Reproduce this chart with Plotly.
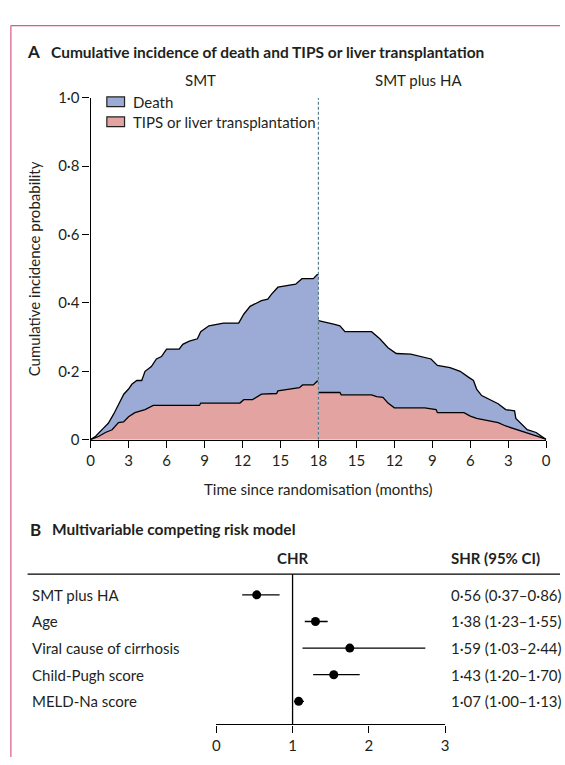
import plotly.graph_objects as go

W, H = 565, 765
FONT = "Lato"
INK = "#231f20"
BLUE = "#9cabd5"
RED = "#e3a3a0"
PINK = "#d85c80"

# ---------------- Panel A data ----------------
FOLLOW_UP = 18  # months shown for each group

smt_total_t = [0, 0.4, 1.0, 1.4, 1.84, 2.23, 2.62, 3.0, 3.26, 3.65, 4.04, 4.3, 4.8, 5.2, 5.6, 6.0, 7.0,
               7.28, 7.8, 8.44, 8.7, 9.35, 10.5, 11.7, 12.1, 12.6, 13.5, 14.0, 14.3, 14.8, 16.2, 16.7,
               17.6, 17.9, 18.0]
smt_total_p = [0, 0.010, 0.033, 0.048, 0.076, 0.105, 0.133, 0.148, 0.162, 0.173, 0.173, 0.200, 0.214,
               0.236, 0.243, 0.265, 0.265, 0.279, 0.288, 0.295, 0.316, 0.333, 0.341, 0.341, 0.367, 0.390,
               0.407, 0.411, 0.426, 0.446, 0.455, 0.471, 0.471, 0.483, 0.483]

smt_tips_t = [0, 0.66, 1.17, 1.7, 2.2, 2.6, 3.0, 3.5, 4.3, 4.95, 8.6, 8.7, 11.8, 12.1, 12.8, 13.5, 14.7,
              14.8, 16.5, 16.75, 17.6, 17.9, 18.0]
smt_tips_p = [0, 0.010, 0.021, 0.029, 0.050, 0.052, 0.067, 0.079, 0.088, 0.100, 0.100, 0.107, 0.107,
              0.117, 0.117, 0.133, 0.135, 0.143, 0.152, 0.160, 0.160, 0.171, 0.171]

ha_total_t = [0, 0.4, 0.8, 1.5, 1.9, 2.4, 2.5, 3.2, 3.8, 4.6, 5.1, 5.5, 5.75, 6.15, 6.8, 7.6, 8.6, 9.1,
              9.9, 10.7, 11.85, 12.5, 13.15, 13.8, 15.9, 16.3, 16.8, 17.3, 18.0]
ha_total_p = [0, 0.010, 0.021, 0.029, 0.043, 0.062, 0.084, 0.088, 0.105, 0.119, 0.129, 0.148, 0.173,
              0.183, 0.200, 0.211, 0.217, 0.236, 0.243, 0.250, 0.252, 0.269, 0.295, 0.316, 0.316, 0.333,
              0.338, 0.343, 0.348]

ha_tips_t = [0, 0.1, 0.8, 1.6, 2.4, 3.2, 3.8, 4.7, 5.5, 6.0, 6.5, 8.6, 8.7, 9.6, 12.0, 12.5, 12.9, 13.4,
             13.8, 16.2, 16.3, 18.0]
ha_tips_p = [0, 0.002, 0.011, 0.021, 0.030, 0.040, 0.050, 0.056, 0.062, 0.069, 0.079, 0.079, 0.088,
             0.093, 0.093, 0.107, 0.124, 0.126, 0.131, 0.131, 0.138, 0.138]

y_ticks = [0, 0.2, 0.4, 0.6, 0.8, 1.0]
y_ticktext = ["0", "0·2", "0·4", "0·6", "0·8", "1·0"]
month_ticks = [0, 3, 6, 9, 12, 15, 18]
group_names = ["SMT", "SMT plus HA"]
series_names = ["Death", "TIPS or liver transplantation"]

# ---------------- Panel B data ----------------
covariates = ["SMT plus HA", "Age", "Viral cause of cirrhosis", "Child-Pugh score", "MELD-Na score"]
chr_est = [0.53, 1.30, 1.75, 1.54, 1.08]
chr_lo = [0.34, 1.16, 1.13, 1.27, 1.02]
chr_hi = [0.83, 1.46, 2.74, 1.88, 1.15]
shr_text = ["0·56 (0·37–0·86)", "1·38 (1·23–1·55)", "1·59 (1·03–2·44)", "1·43 (1·20–1·70)",
            "1·07 (1·00–1·13)"]
hr_ticks = [0, 1, 2, 3]


def px(x):
    return x / W


def py(y):
    return 1 - y / H


def mirror(ts):
    # SMT plus HA group is drawn with time running back from 18 to 0
    return [2 * FOLLOW_UP - t for t in ts]


fig = go.Figure()
line = dict(color="black", width=1.3)

# SMT group
fig.add_trace(go.Scatter(x=smt_tips_t, y=smt_tips_p, mode="lines", line=line, fill="tozeroy",
                         fillcolor=RED, showlegend=False, hoverinfo="skip"))
fig.add_trace(go.Scatter(x=smt_total_t, y=smt_total_p, mode="lines", line=line, fill="tonexty",
                         fillcolor=BLUE, showlegend=False, hoverinfo="skip"))
# SMT plus HA group
fig.add_trace(go.Scatter(x=mirror(ha_tips_t), y=ha_tips_p, mode="lines", line=line, fill="tozeroy",
                         fillcolor=RED, showlegend=False, hoverinfo="skip"))
fig.add_trace(go.Scatter(x=mirror(ha_total_t), y=ha_total_p, mode="lines", line=line, fill="tonexty",
                         fillcolor=BLUE, showlegend=False, hoverinfo="skip"))

# Forest plot
err = dict(type="data", symmetric=False,
           array=[h - e for h, e in zip(chr_hi, chr_est)],
           arrayminus=[e - l for e, l in zip(chr_est, chr_lo)],
           color="black", thickness=1.3, width=0)
fig.add_trace(go.Scatter(x=chr_est, y=list(range(len(covariates))), mode="markers",
                         marker=dict(color="black", size=9), error_x=err,
                         xaxis="x2", yaxis="y2", showlegend=False, hoverinfo="skip"))

x_tickvals = month_ticks + mirror(month_ticks[:-1])
x_ticktext = [str(m) for m in month_ticks] + [str(m) for m in month_ticks[:-1]]

FS = 15
tickfont = dict(family=FONT, size=FS, color=INK)
fig.update_layout(
    width=W, height=H, margin=dict(l=0, r=0, t=0, b=0),
    paper_bgcolor="white", plot_bgcolor="rgba(0,0,0,0)",
    font=dict(family=FONT, color=INK),
    showlegend=False,
    xaxis=dict(domain=[px(88), px(551)], range=[0, 2 * FOLLOW_UP], tickvals=x_tickvals,
               ticktext=x_ticktext, showline=True, linecolor="black", linewidth=1.3, ticks="outside",
               ticklen=7, tickcolor="black", tickwidth=1.3, showgrid=False, zeroline=False,
               tickfont=tickfont, anchor="y"),
    yaxis=dict(domain=[py(440), py(90)], range=[0, 1], tickvals=y_ticks, ticktext=y_ticktext,
               showline=True, linecolor="black", linewidth=1.3, ticks="outside", ticklen=7,
               tickcolor="black", tickwidth=1.3, showgrid=False, zeroline=False,
               tickfont=tickfont, anchor="x"),
    xaxis2=dict(domain=[px(215.7), px(448.3)], range=[0, 3], tickvals=hr_ticks,
                ticktext=[str(t) for t in hr_ticks], showline=True, linecolor="black", linewidth=1.3,
                ticks="outside", ticklen=7, tickcolor="black", tickwidth=1.3, showgrid=False,
                zeroline=False, tickfont=tickfont, anchor="y2"),
    yaxis2=dict(domain=[py(731.7), py(577.7)], range=[4.87, -0.78], visible=False, anchor="x2"),
)

shapes = []
# pink frame
shapes.append(dict(type="line", xref="paper", yref="paper", x0=px(7), x1=1, y0=py(16), y1=py(16),
                   line=dict(color=PINK, width=1.2)))
shapes.append(dict(type="line", xref="paper", yref="paper", x0=px(7), x1=px(7), y0=py(16), y1=0,
                   line=dict(color=PINK, width=1.2)))
# dashed separator between groups
shapes.append(dict(type="line", xref="x", yref="y", x0=FOLLOW_UP, x1=FOLLOW_UP, y0=0, y1=1,
                   line=dict(color="#5b7d90", width=1.2, dash="3px,2px")))
# legend swatches
for i, c in enumerate([BLUE, RED]):
    y0 = 89 + i * 20.5
    shapes.append(dict(type="rect", xref="paper", yref="paper", x0=px(104.5), x1=px(122.5),
                       y0=py(y0), y1=py(y0 + 10), fillcolor=c, line=dict(color="#222", width=1.2)))
# panel B header rule and reference line at HR = 1
shapes.append(dict(type="line", xref="paper", yref="paper", x0=px(24), x1=1, y0=py(577.7), y1=py(577.7),
                   line=dict(color="black", width=1.3)))
shapes.append(dict(type="line", xref="x2", yref="y2 domain", x0=1, x1=1, y0=0, y1=1,
                   line=dict(color="black", width=1.3)))
fig.update_layout(shapes=shapes)

ann = []


def text(x, y, s, size=FS, anchor="left", bold=False, **kw):
    ann.append(dict(x=x, y=y, xref=kw.pop("xref", "paper"), yref=kw.pop("yref", "paper"),
                    text=f"<b>{s}</b>" if bold else s, showarrow=False, xanchor=anchor,
                    yanchor="middle", font=dict(family=FONT, size=size, color=INK), **kw))


text(px(21), py(43), "A", size=17, bold=True)
text(px(46), py(43), "Cumulative incidence of death and TIPS or liver transplantation", size=15.5, bold=True)
text(px(200), py(72), group_names[0], anchor="center")
text(px(421), py(72), group_names[1], anchor="center")
text(px(129), py(94), series_names[0])
text(px(129), py(114.5), series_names[1])
text(px(319.5), py(491), "Time since randomisation (months)", anchor="center")
ann.append(dict(x=px(30), y=py(265), xref="paper", yref="paper", text="Cumulative incidence probability",
                showarrow=False, textangle=-90, xanchor="center", yanchor="middle",
                font=dict(family=FONT, size=FS, color=INK)))

text(px(24), py(532), "B", size=17, bold=True)
text(px(46.5), py(532), "Multivariable competing risk model", size=15.5, bold=True)
text(px(293), py(561), "CHR", anchor="center", bold=True)
text(px(452), py(561), "SHR (95% CI)", bold=True)
for i, (lab, s) in enumerate(zip(covariates, shr_text)):
    text(px(26.5), i, lab, yref="y2")
    text(px(452), i, s, yref="y2")

fig.update_layout(annotations=ann)
fig.write_html("out.html", config={"displayModeBar": False},
               post_script="document.body.style.margin='0';document.body.style.overflow='hidden';")
